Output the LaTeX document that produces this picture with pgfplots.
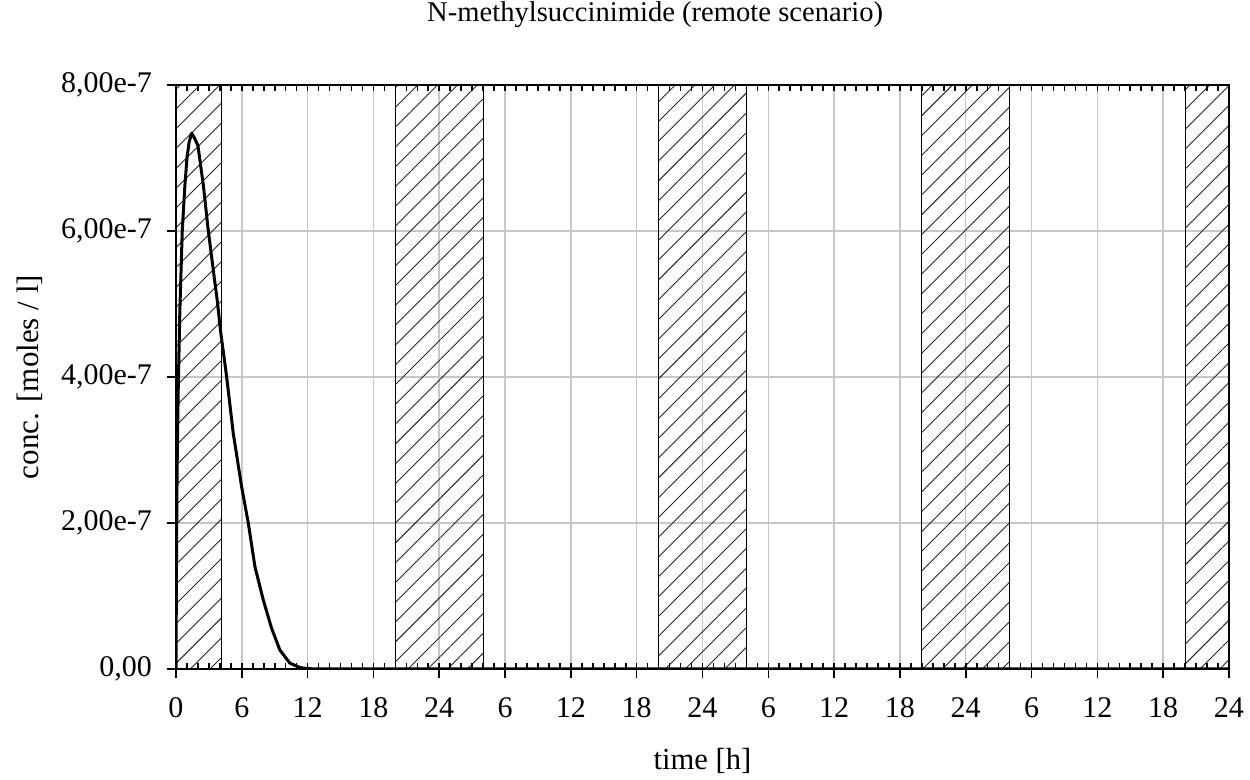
\documentclass[border=0pt]{standalone}
\usepackage{fontspec}
\setmainfont{Liberation Serif}
\usepackage{pgfplots}
\pgfplotsset{compat=1.18}
\usetikzlibrary{patterns.meta}

\pgfplotstableread{
t c
0 0
0.05 1.6e-7
0.1 2.7e-7
0.2 3.8e-7
0.35 4.9e-7
0.57 6.0e-7
0.8 6.6e-7
1.0 7.0e-7
1.2 7.22e-7
1.43 7.34e-7
1.7 7.27e-7
2.0 7.17e-7
2.5 6.62e-7
2.94 6.01e-7
3.5 5.35e-7
3.76 5.05e-7
4.07 4.62e-7
4.62 4.0e-7
5.22 3.23e-7
5.98 2.50e-7
6.59 2.0e-7
7.2 1.40e-7
7.95 0.95e-7
8.71 0.56e-7
9.47 0.26e-7
10.38 0.08e-7
11.3 0.02e-7
12 0.005e-7
13 0
96 0
}\conc

\begin{document}
\begin{tikzpicture}[x=1pt,y=1pt]
\useasboundingbox (-88,-55.5) rectangle (537,334.5);
\pgfplotsset{
  commonax/.style={
    at={(0,0)}, anchor=south west,
    width=526.5pt, height=292pt, scale only axis,
    xmin=0, xmax=96, ymin=0, ymax=8e-7,
    axis line style={line width=1pt},
    scaled y ticks=false,
  },
  hatch/.style={draw=black, line width=0.5pt,
    pattern={Lines[angle=45,distance=7pt,line width=0.45pt]}, pattern color=black!85},
}
\begin{axis}[
  commonax,
  xtick={0,6,...,96},
  xticklabels={0,6,12,18,24,6,12,18,24,6,12,18,24,6,12,18,24},
  ytick={0,2e-7,4e-7,6e-7,8e-7},
  yticklabels={{0,00},{2,00e-7},{4,00e-7},{6,00e-7},{8,00e-7}},
  xtick pos=bottom, ytick pos=left,
  tick align=outside,
  major tick length=4.5pt,
  tick style={black, line width=0.8pt},
  grid=major,
  major grid style={black!22, line width=0.75pt},
  tick label style={font=\fontsize{15}{18}\selectfont},
  xticklabel style={anchor=base, yshift=-20pt},
  yticklabel style={xshift=-4pt},
  xlabel={time [h]},
  ylabel={conc. [moles / l]},
  xlabel style={font=\fontsize{15.3}{18}\selectfont, at={(axis description cs:0.5,0)}, anchor=base, yshift=-50.5pt},
  ylabel style={font=\fontsize{15.5}{18}\selectfont, at={(axis description cs:-0.1387,0.5)}, anchor=center, rotate=0},
  title={N-methylsuccinimide (remote scenario)},
  title style={font=\fontsize{14.3}{16}\selectfont, at={(axis description cs:0.455,1)}, anchor=base, yshift=26pt},
]
\addplot[hatch] coordinates {(0,8e-7) (4.15,8e-7)} \closedcycle;
\addplot[hatch] coordinates {(20,8e-7) (28,8e-7)} \closedcycle;
\addplot[hatch] coordinates {(44,8e-7) (52,8e-7)} \closedcycle;
\addplot[hatch] coordinates {(68,8e-7) (76,8e-7)} \closedcycle;
\addplot[hatch] coordinates {(92,8e-7) (96,8e-7)} \closedcycle;
\addplot[black, line width=1.5pt, line join=round] table[x=t, y=c] {\conc};
\end{axis}
\begin{axis}[
  commonax,
  xtick={0,1,...,96}, xticklabels={},
  ytick=\empty,
  xtick pos=both,
  tick align=inside,
  major tick length=3pt,
  tick style={black, line width=0.8pt},
]
\end{axis}
\end{tikzpicture}
\end{document}
